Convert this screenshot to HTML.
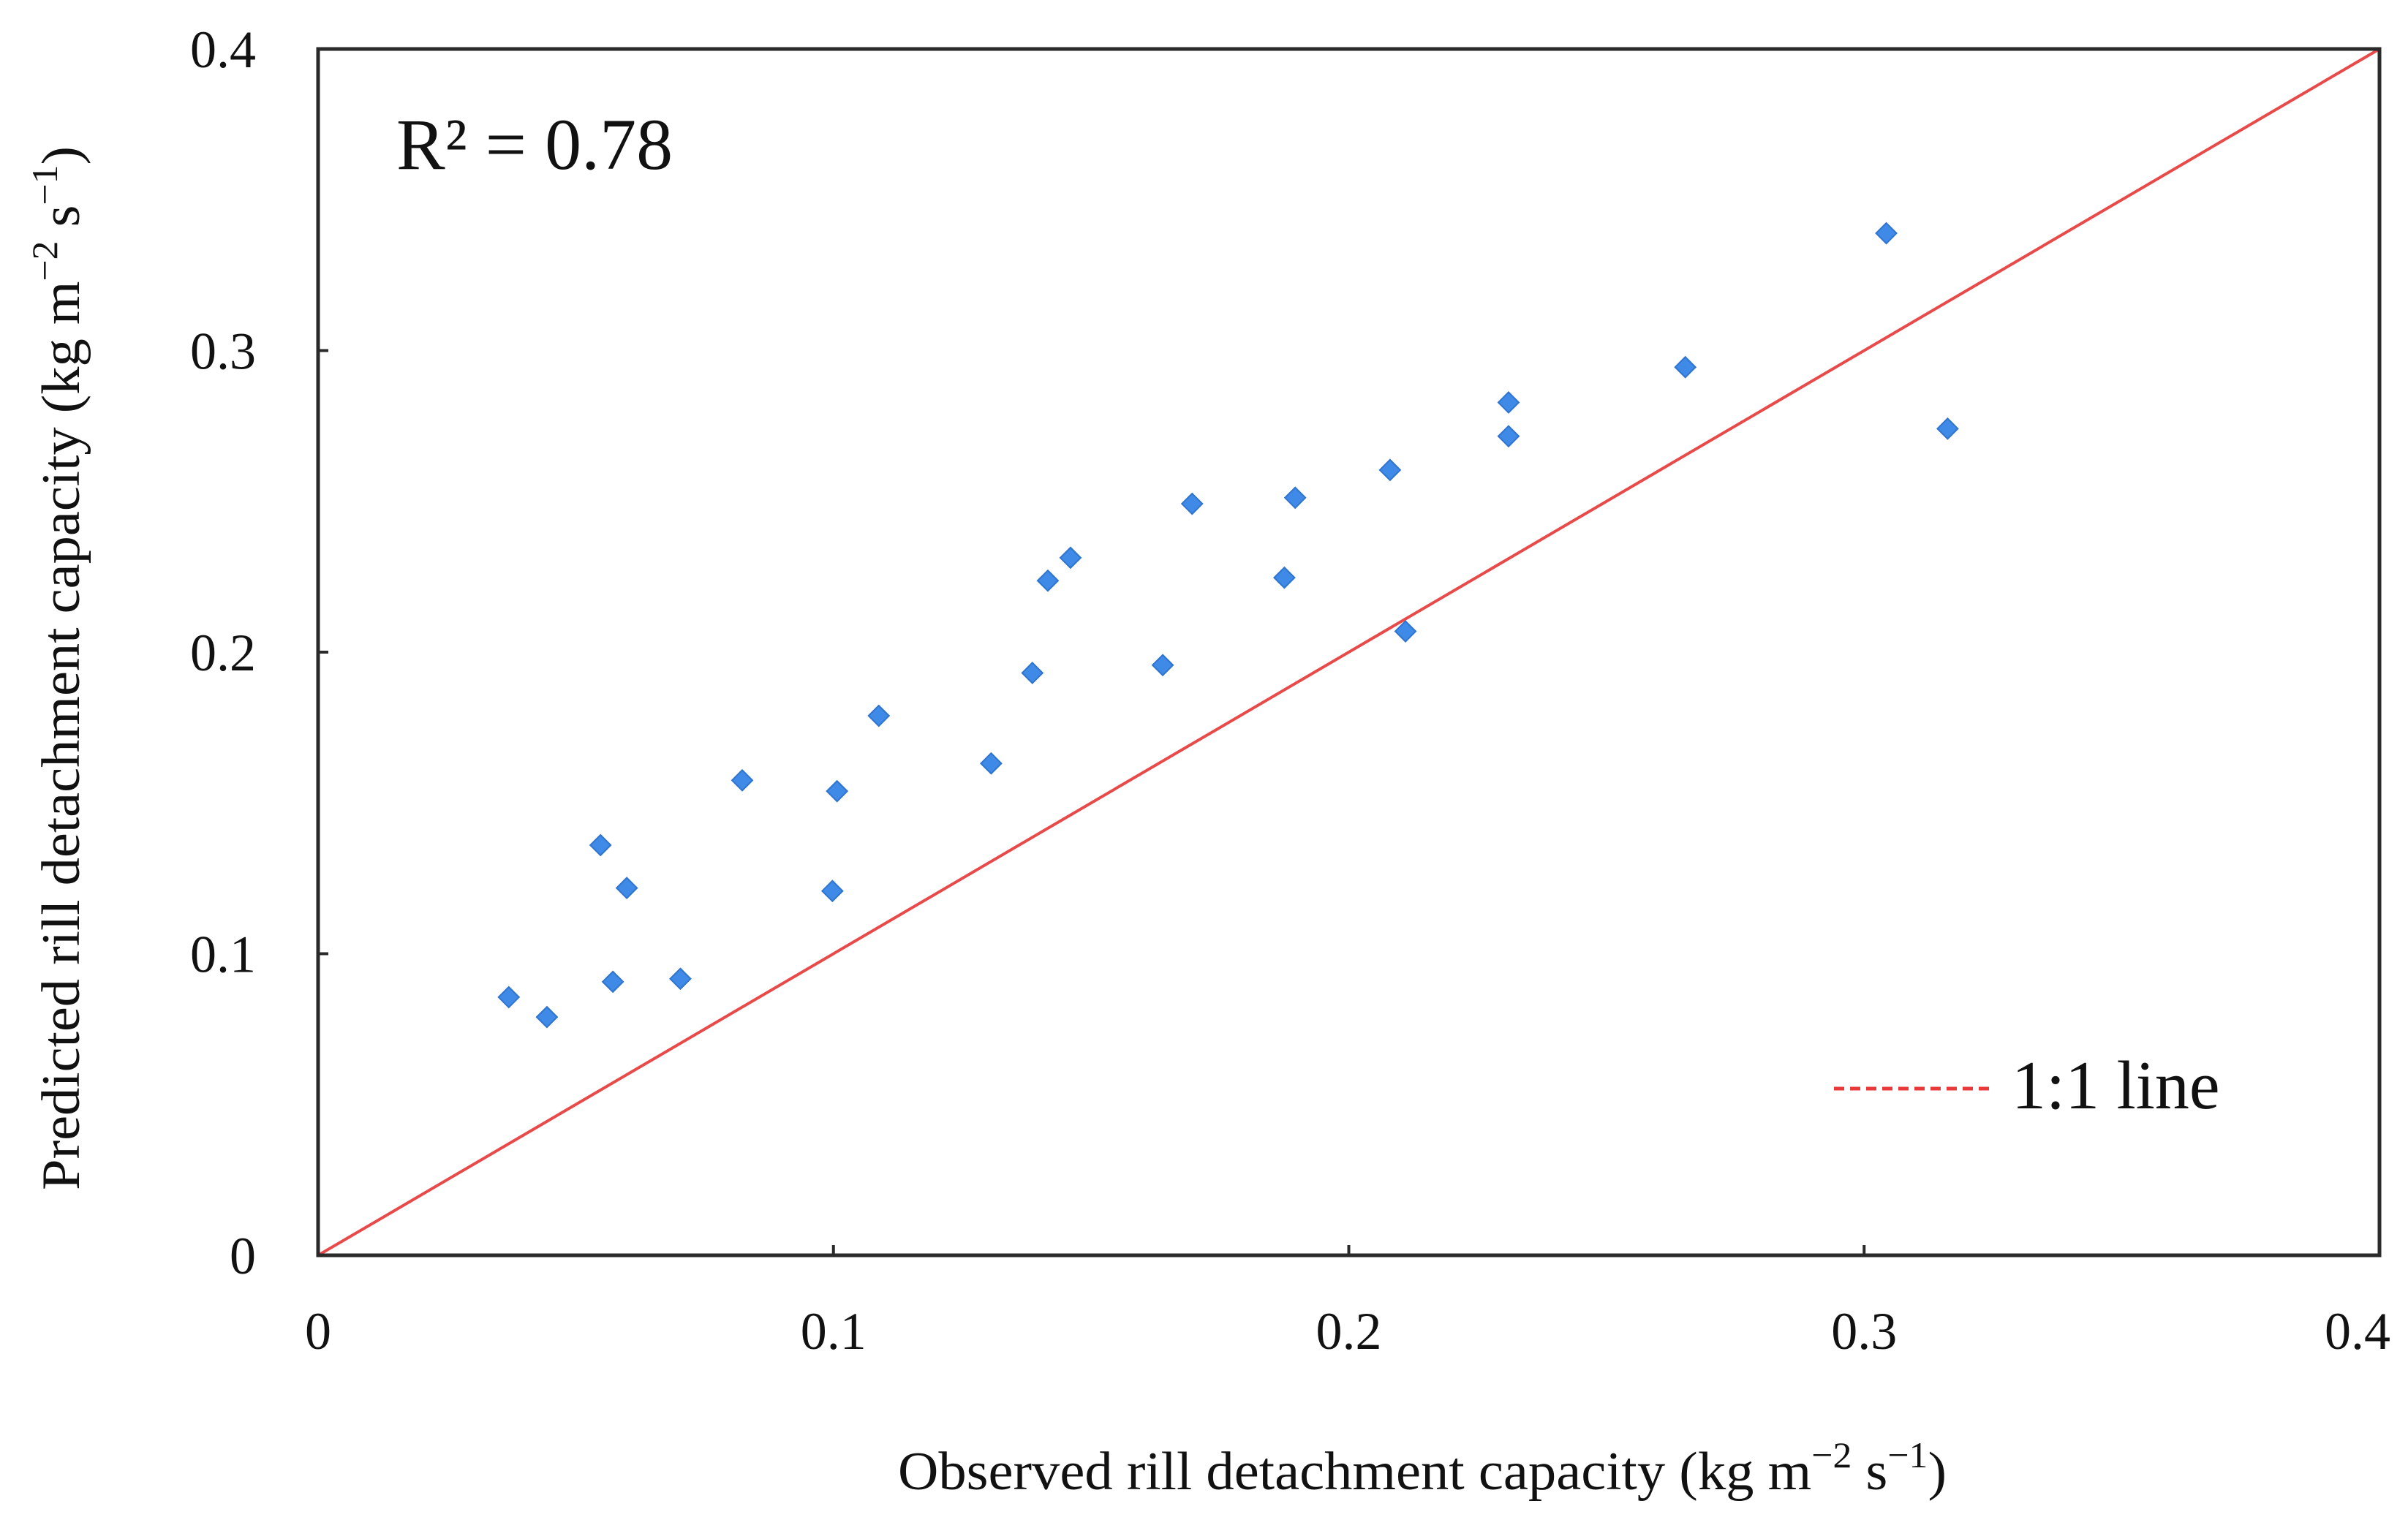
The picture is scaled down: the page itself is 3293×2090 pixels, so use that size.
<!DOCTYPE html>
<html><head><meta charset="utf-8"><style>
html,body{margin:0;padding:0;background:#fff;}
svg{display:block;font-family:"Liberation Serif",serif;}
</style></head><body>
<svg id="chart" width="3293" height="2090" viewBox="0 0 3293 2090" xmlns="http://www.w3.org/2000/svg">
<rect width="3293" height="2090" fill="#fff"/>
<g id="marks"></g>
<rect x="435" y="67" width="2819" height="1650" fill="none" stroke="#2a2a2a" stroke-width="5"/>
<g id="ticks"></g>
<text x="542" y="231" font-size="100" fill="#111">R² = 0.78</text>
<line x1="2508" y1="1489" x2="2725" y2="1489" stroke="#e83a3a" stroke-width="5" stroke-dasharray="14,8"/>
<text x="2751" y="1516" font-size="94" fill="#111">1:1 line</text>
<text x="1228" y="2037" font-size="74" fill="#111" textLength="1434" lengthAdjust="spacingAndGlyphs">Observed rill detachment capacity (kg m<tspan font-size="50" dy="-30">−2</tspan><tspan dy="30"> s</tspan><tspan font-size="50" dy="-30">−1</tspan><tspan dy="30">)</tspan></text>
<text transform="translate(108,1628) rotate(-90)" x="0" y="0" font-size="74" fill="#111" textLength="1428" lengthAdjust="spacingAndGlyphs">Predicted rill detachment capacity (kg m<tspan font-size="50" dy="-30">−2</tspan><tspan dy="30"> s</tspan><tspan font-size="50" dy="-30">−1</tspan><tspan dy="30">)</tspan></text>
</svg>
<script>
const observed = [0.037,0.0444,0.0548,0.0572,0.0599,0.0703,0.0823,0.0998,0.1007,0.1088,0.1306,0.1386,0.1416,0.146,0.1639,0.1696,0.1875,0.1896,0.208,0.211,0.231,0.231,0.2653,0.3043,0.3162];
const predicted = [0.0856,0.079,0.136,0.0907,0.1218,0.0917,0.1575,0.1208,0.1539,0.1789,0.1631,0.1931,0.2237,0.2313,0.1957,0.2492,0.2247,0.2512,0.2604,0.2069,0.2828,0.2716,0.2945,0.3389,0.2741];
const tickValues = [0,0.1,0.2,0.3,0.4];
const tickLabels = ["0","0.1","0.2","0.3","0.4"];
const oneToOne = [0,0.4];

const NS="http://www.w3.org/2000/svg";
const X0=435,X1=3254,Y0=1717,Y1=67,VMAX=0.4;
const sx=v=>X0+(X1-X0)*v/VMAX;
const sy=v=>Y0-(Y0-Y1)*v/VMAX;
const marks=document.getElementById('marks');
const ticks=document.getElementById('ticks');
function mk(tag,attrs,parent){const e=document.createElementNS(NS,tag);for(const k in attrs)e.setAttribute(k,attrs[k]);parent.appendChild(e);return e;}

const ln=mk('line',{x1:sx(oneToOne[0]),y1:sy(oneToOne[0]),x2:sx(oneToOne[1]),y2:sy(oneToOne[1]),stroke:'#e84a4a','stroke-width':4},marks);



observed.forEach((o,i)=>{
  const cx=sx(o),cy=sy(predicted[i]),r=14;
  const p=mk('polygon',{points:`${cx},${cy-r} ${cx+r},${cy} ${cx},${cy+r} ${cx-r},${cy}`,fill:'#3f8ae6',stroke:'#2f74cf','stroke-width':2},marks);
  
  
});

tickValues.forEach((v,i)=>{
  const tx=mk('line',{x1:sx(v),y1:Y0,x2:sx(v),y2:Y0-14,stroke:'#2a2a2a','stroke-width':4},ticks);
  
  
  const ty=mk('line',{x1:X0,y1:sy(v),x2:X0+14,y2:sy(v),stroke:'#2a2a2a','stroke-width':4},ticks);
  
  
  const xl=mk('text',{x:sx(v)-(i===4?30:0),y:1845,'font-size':72,'text-anchor':'middle',fill:'#111'},ticks);
  xl.textContent=tickLabels[i];
  
  
  const yl=mk('text',{x:350,y:sy(v)+25,'font-size':72,'text-anchor':'end',fill:'#111'},ticks);
  yl.textContent=tickLabels[i];
  
  
});
</script>
</body></html>
